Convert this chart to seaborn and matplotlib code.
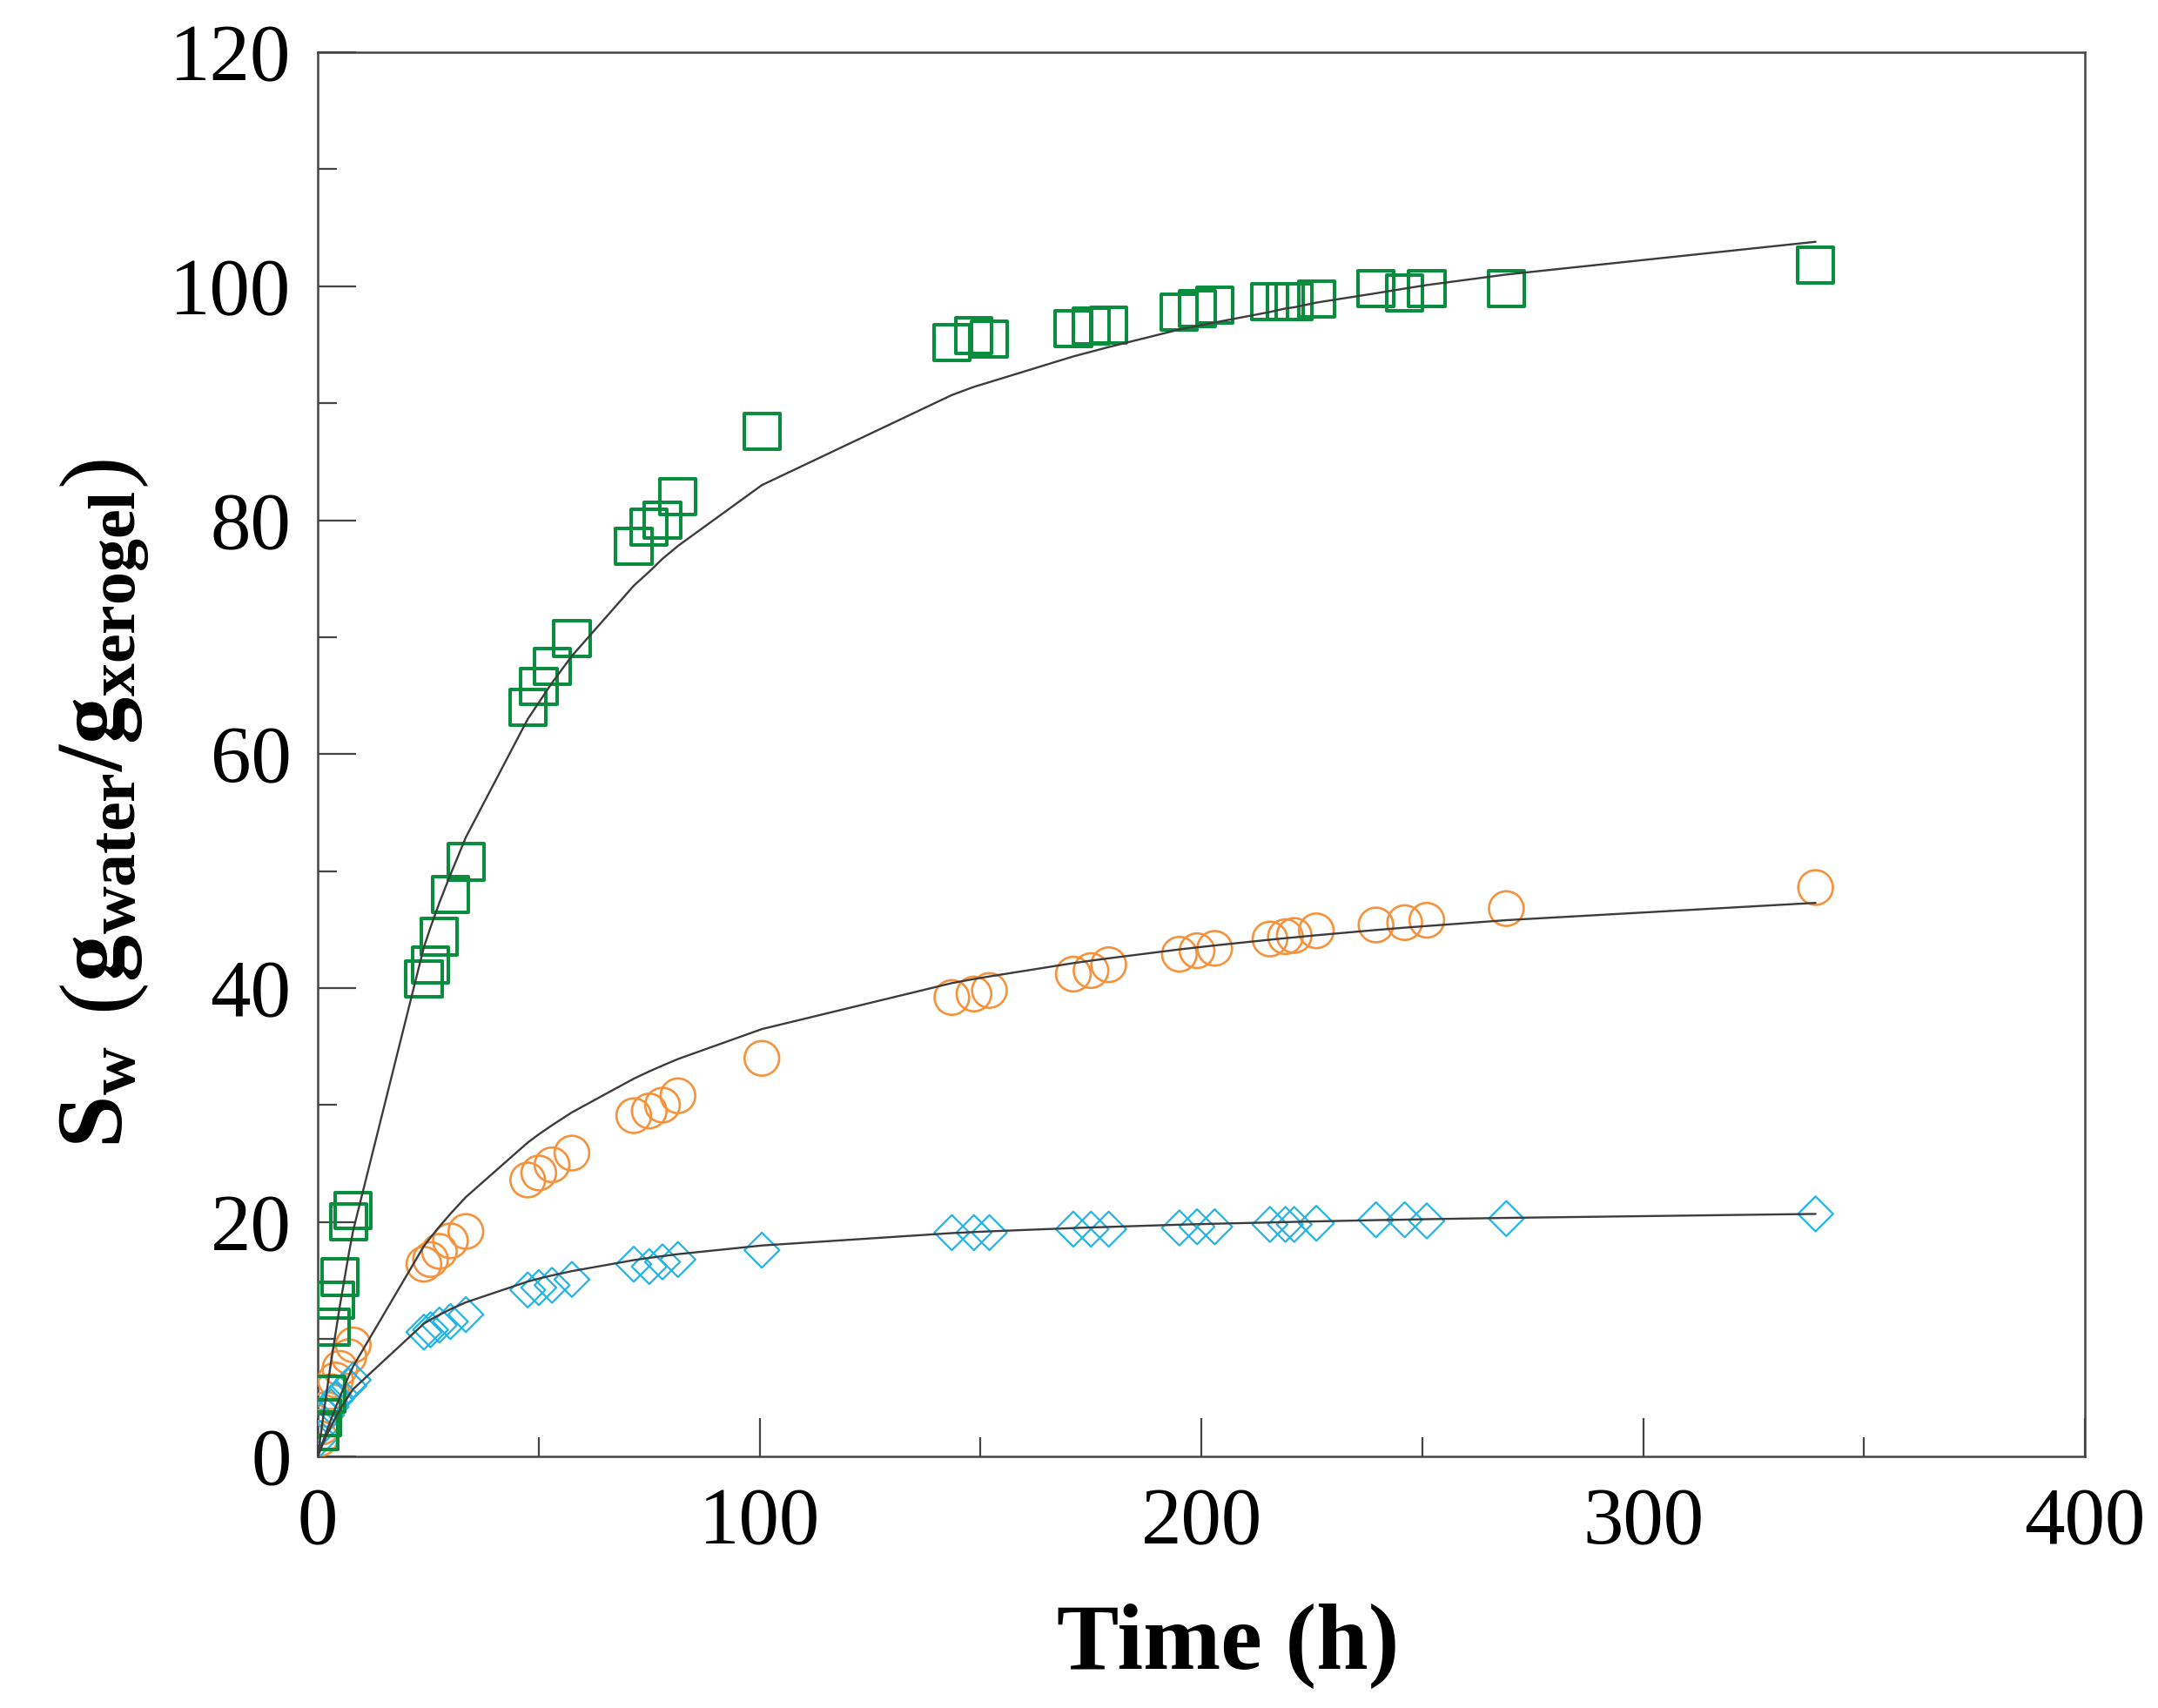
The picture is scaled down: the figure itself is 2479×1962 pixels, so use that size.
import pandas as pd
import seaborn as sns
import matplotlib.pyplot as plt

time_h = [0.5, 1, 2, 3, 4, 5, 7, 8, 24, 25.5, 27.5, 30, 33.5, 47.5, 50, 53, 57.5,
          71.5, 75, 78, 81.5, 100.5, 143.5, 148.5, 152, 171, 175, 179, 195, 199, 203,
          215.5, 219, 221, 226, 239.5, 246, 251, 269, 339]

sw_green = [2.1, 3.3, 5.3, 11, 13.3, 15.3, 20, 21, 40.8, 42, 44.4, 48, 50.8, 64, 65.8,
            67.5, 69.9, 77.8, 79.4, 80, 82, 87.6, 95.2, 95.8, 95.5, 96.4, 96.6, 96.7,
            97.8, 98.1, 98.4, 98.7, 98.7, 98.7, 98.9, 99.8, 99.4, 99.8, 99.8, 101.8]
sw_orange = [1.5, 2.5, 4, 5.5, 6.5, 7.5, 8.5, 9.5, 16.4, 16.8, 17.5, 18.4, 19.2, 23.6,
             24.2, 24.9, 25.9, 29.1, 29.5, 30, 30.8, 34, 39.2, 39.5, 39.8, 41.2, 41.5,
             42, 42.9, 43.2, 43.4, 44.2, 44.4, 44.5, 44.9, 45.4, 45.6, 45.8, 46.8, 48.6]
sw_blue = [1.5, 2.5, 3.5, 4.2, 4.8, 5.3, 6, 6.5, 10.6, 10.8, 11.2, 11.5, 12.1, 14.2,
           14.4, 14.6, 15.1, 16.4, 16.2, 16.6, 16.8, 17.6, 19.1, 19.1, 19.1, 19.4, 19.4,
           19.4, 19.5, 19.6, 19.6, 19.8, 19.8, 19.8, 19.9, 20.2, 20.2, 20.1, 20.3, 20.7]

# fitted curves
fit_time = [0] + time_h
fit_green = [0, 1.4, 2.8, 5.5, 8.1, 10.5, 12.9, 17.3, 19.3, 43.5, 45.2, 47.3, 49.7, 52.9,
             63.0, 64.4, 66.1, 68.4, 74.4, 75.6, 76.7, 77.8, 83.0, 90.7, 91.4, 91.8, 94.0,
             94.4, 94.8, 96.3, 96.6, 96.9, 97.8, 98.1, 98.2, 98.6, 99.4, 99.8, 100.1,
             101.0, 103.8]
fit_orange = [0, 0.55, 1.1, 2.15, 3.16, 4.14, 5.07, 6.85, 7.68, 17.95, 18.68, 19.61, 20.71,
              22.14, 26.8, 27.5, 28.28, 29.38, 32.26, 32.88, 33.38, 33.94, 36.5, 40.43,
              40.78, 41.0, 42.14, 42.35, 42.55, 43.31, 43.48, 43.65, 44.14, 44.27, 44.34,
              44.52, 44.97, 45.17, 45.31, 45.81, 47.29]
fit_blue = [0, 0.47, 0.93, 1.78, 2.57, 3.29, 3.97, 5.19, 5.73, 11.32, 11.66, 12.07, 12.55,
            13.14, 14.92, 15.17, 15.44, 15.81, 16.75, 16.94, 17.09, 17.26, 18.0, 19.06,
            19.15, 19.21, 19.49, 19.54, 19.59, 19.78, 19.82, 19.86, 19.97, 20.0, 20.02,
            20.06, 20.17, 20.21, 20.25, 20.36, 20.7]

sns.set_theme(style="ticks")
plt.rcParams["font.family"] = ["Liberation Serif", "DejaVu Serif"]
plt.rcParams["mathtext.fontset"] = "custom"
plt.rcParams["mathtext.rm"] = "Liberation Serif"
plt.rcParams["mathtext.bf"] = "Liberation Serif:bold"
plt.rcParams["text.color"] = "black"
plt.rcParams["axes.labelcolor"] = "black"

df = pd.DataFrame({"t": time_h, "green": sw_green, "orange": sw_orange, "blue": sw_blue})
fit = pd.DataFrame({"t": fit_time, "green": fit_green, "orange": fit_orange, "blue": fit_blue})

fig = plt.figure(figsize=(24.79, 19.62), dpi=100)
ax = fig.add_axes([0.1473, 0.1475, 0.8189, 0.8219])

sns.scatterplot(data=df, x="t", y="orange", ax=ax, marker="o", s=820,
                facecolor="none", edgecolor="#f7923c", linewidth=1.9, zorder=3)
sns.scatterplot(data=df, x="t", y="blue", ax=ax, marker="D", s=420,
                facecolor="none", edgecolor="#22b4e6", linewidth=1.6, zorder=4)
sns.scatterplot(data=df, x="t", y="green", ax=ax, marker="s", s=880,
                facecolor="none", edgecolor="#0a8d3e", linewidth=2.9, zorder=5)

for col in ["green", "orange", "blue"]:
    sns.lineplot(data=fit, x="t", y=col, ax=ax, color="#3c3c3c", linewidth=1.7,
                 zorder=6, legend=False)

ax.set_xlim(0, 400)
ax.set_ylim(0, 120)
ax.set_xticks([0, 100, 200, 300, 400])
ax.set_xticks([50, 150, 250, 350], minor=True)
ax.set_yticks([0, 20, 40, 60, 80, 100, 120])
ax.set_yticks([10, 30, 50, 70, 90, 110], minor=True)
ax.tick_params(which="major", direction="in", length=32, width=1.6, color="#444444",
               labelcolor="black", labelsize=67, pad=22)
ax.tick_params(which="minor", direction="in", length=16, width=1.6, color="#444444")
ax.tick_params(axis="x", which="major", pad=26)
for sp in ax.spines.values():
    sp.set_color("#444444")
    sp.set_linewidth(1.8)

ax.set_xlabel("Time (h)", fontsize=77, fontweight="bold")
ax.xaxis.set_label_coords(0.515, -0.105)
ax.xaxis.label.set_va("top")
ax.set_ylabel(r"$\mathbf{S_{w}}\ \left(\mathbf{g_{water}/g_{xerogel}}\right)$", fontsize=78)
ax.yaxis.set_label_coords(-0.094, 0.465)

plt.savefig("out.png", dpi=100)
